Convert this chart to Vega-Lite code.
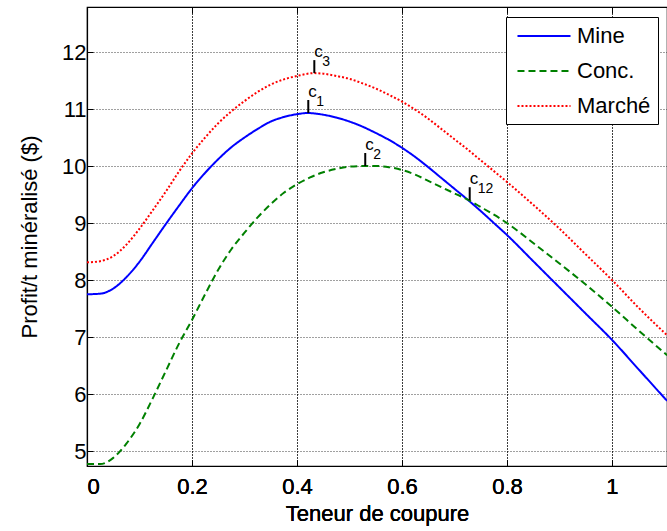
{
  "$schema": "https://vega.github.io/schema/vega-lite/v6.json",
  "width": 580,
  "height": 459,
  "autosize": {"type": "none"},
  "padding": {"left": 87, "top": 7, "right": 0, "bottom": 65},
  "background": "white",
  "config": {
    "font": "Liberation Sans",
    "view": {"stroke": "black", "strokeWidth": 1.2},
    "axis": {
      "domainColor": "black",
      "domainWidth": 1.2,
      "tickColor": "black",
      "tickSize": -6,
      "tickWidth": 1,
      "labelFont": "Liberation Sans",
      "labelFontSize": 22,
      "labelColor": "black",
      "titleFont": "Liberation Sans",
      "titleFontSize": 22,
      "titleFontWeight": "normal",
      "titleColor": "black",
      "gridColor": "black",
      "gridDash": [1, 2],
      "gridOpacity": 0.75,
      "gridWidth": 1
    },
    "legend": {
      "orient": "none",
      "legendX": 419,
      "legendY": 10,
      "strokeColor": "black",
      "fillColor": "white",
      "padding": 7,
      "symbolType": "M-2.5,0H2.5",
      "symbolSize": 450,
      "symbolStrokeWidth": 2,
      "symbolOffset": 19,
      "labelFont": "Liberation Sans",
      "labelFontSize": 22,
      "labelColor": "black",
      "labelOffset": 21,
      "rowPadding": 12
    }
  },
  "datasets": {
    "courbes": [
      {"serie": "Mine", "teneur": 0, "profit": 7.75},
      {"serie": "Mine", "teneur": 0.025, "profit": 7.76},
      {"serie": "Mine", "teneur": 0.05, "profit": 7.85},
      {"serie": "Mine", "teneur": 0.075, "profit": 8.05},
      {"serie": "Mine", "teneur": 0.1, "profit": 8.32},
      {"serie": "Mine", "teneur": 0.125, "profit": 8.65},
      {"serie": "Mine", "teneur": 0.15, "profit": 8.98},
      {"serie": "Mine", "teneur": 0.175, "profit": 9.3},
      {"serie": "Mine", "teneur": 0.2, "profit": 9.61},
      {"serie": "Mine", "teneur": 0.225, "profit": 9.88},
      {"serie": "Mine", "teneur": 0.25, "profit": 10.12},
      {"serie": "Mine", "teneur": 0.275, "profit": 10.33},
      {"serie": "Mine", "teneur": 0.3, "profit": 10.5},
      {"serie": "Mine", "teneur": 0.325, "profit": 10.65},
      {"serie": "Mine", "teneur": 0.35, "profit": 10.78},
      {"serie": "Mine", "teneur": 0.375, "profit": 10.86},
      {"serie": "Mine", "teneur": 0.4, "profit": 10.91},
      {"serie": "Mine", "teneur": 0.42, "profit": 10.93},
      {"serie": "Mine", "teneur": 0.45, "profit": 10.9},
      {"serie": "Mine", "teneur": 0.475, "profit": 10.85},
      {"serie": "Mine", "teneur": 0.5, "profit": 10.78},
      {"serie": "Mine", "teneur": 0.525, "profit": 10.69},
      {"serie": "Mine", "teneur": 0.55, "profit": 10.58},
      {"serie": "Mine", "teneur": 0.575, "profit": 10.46},
      {"serie": "Mine", "teneur": 0.6, "profit": 10.32},
      {"serie": "Mine", "teneur": 0.625, "profit": 10.16},
      {"serie": "Mine", "teneur": 0.65, "profit": 9.98},
      {"serie": "Mine", "teneur": 0.675, "profit": 9.79},
      {"serie": "Mine", "teneur": 0.7, "profit": 9.6},
      {"serie": "Mine", "teneur": 0.725, "profit": 9.41},
      {"serie": "Mine", "teneur": 0.75, "profit": 9.21},
      {"serie": "Mine", "teneur": 0.775, "profit": 9.0},
      {"serie": "Mine", "teneur": 0.8, "profit": 8.79},
      {"serie": "Mine", "teneur": 0.85, "profit": 8.33},
      {"serie": "Mine", "teneur": 0.9, "profit": 7.87},
      {"serie": "Mine", "teneur": 0.95, "profit": 7.41},
      {"serie": "Mine", "teneur": 1.0, "profit": 6.95},
      {"serie": "Mine", "teneur": 1.05, "profit": 6.44},
      {"serie": "Mine", "teneur": 1.105, "profit": 5.88},
      {"serie": "Conc.", "teneur": 0, "profit": 4.77},
      {"serie": "Conc.", "teneur": 0.025, "profit": 4.77},
      {"serie": "Conc.", "teneur": 0.05, "profit": 4.88},
      {"serie": "Conc.", "teneur": 0.075, "profit": 5.13},
      {"serie": "Conc.", "teneur": 0.1, "profit": 5.47},
      {"serie": "Conc.", "teneur": 0.125, "profit": 5.92},
      {"serie": "Conc.", "teneur": 0.15, "profit": 6.4},
      {"serie": "Conc.", "teneur": 0.175, "profit": 6.88},
      {"serie": "Conc.", "teneur": 0.2, "profit": 7.3},
      {"serie": "Conc.", "teneur": 0.225, "profit": 7.75},
      {"serie": "Conc.", "teneur": 0.25, "profit": 8.18},
      {"serie": "Conc.", "teneur": 0.275, "profit": 8.54},
      {"serie": "Conc.", "teneur": 0.3, "profit": 8.83},
      {"serie": "Conc.", "teneur": 0.325, "profit": 9.1},
      {"serie": "Conc.", "teneur": 0.35, "profit": 9.33},
      {"serie": "Conc.", "teneur": 0.375, "profit": 9.53},
      {"serie": "Conc.", "teneur": 0.4, "profit": 9.68},
      {"serie": "Conc.", "teneur": 0.425, "profit": 9.8},
      {"serie": "Conc.", "teneur": 0.45, "profit": 9.89},
      {"serie": "Conc.", "teneur": 0.475, "profit": 9.95},
      {"serie": "Conc.", "teneur": 0.5, "profit": 9.99},
      {"serie": "Conc.", "teneur": 0.53, "profit": 10.0},
      {"serie": "Conc.", "teneur": 0.55, "profit": 10.0},
      {"serie": "Conc.", "teneur": 0.575, "profit": 9.98},
      {"serie": "Conc.", "teneur": 0.6, "profit": 9.93},
      {"serie": "Conc.", "teneur": 0.625, "profit": 9.85},
      {"serie": "Conc.", "teneur": 0.65, "profit": 9.74},
      {"serie": "Conc.", "teneur": 0.675, "profit": 9.63},
      {"serie": "Conc.", "teneur": 0.7, "profit": 9.52},
      {"serie": "Conc.", "teneur": 0.725, "profit": 9.41},
      {"serie": "Conc.", "teneur": 0.75, "profit": 9.28},
      {"serie": "Conc.", "teneur": 0.8, "profit": 9.0},
      {"serie": "Conc.", "teneur": 0.85, "profit": 8.65},
      {"serie": "Conc.", "teneur": 0.9, "profit": 8.29},
      {"serie": "Conc.", "teneur": 0.95, "profit": 7.92},
      {"serie": "Conc.", "teneur": 1.0, "profit": 7.53},
      {"serie": "Conc.", "teneur": 1.05, "profit": 7.12},
      {"serie": "Conc.", "teneur": 1.105, "profit": 6.68},
      {"serie": "Marché", "teneur": 0, "profit": 8.31},
      {"serie": "Marché", "teneur": 0.025, "profit": 8.33},
      {"serie": "Marché", "teneur": 0.05, "profit": 8.42},
      {"serie": "Marché", "teneur": 0.075, "profit": 8.62},
      {"serie": "Marché", "teneur": 0.1, "profit": 8.9},
      {"serie": "Marché", "teneur": 0.125, "profit": 9.22},
      {"serie": "Marché", "teneur": 0.15, "profit": 9.55},
      {"serie": "Marché", "teneur": 0.175, "profit": 9.9},
      {"serie": "Marché", "teneur": 0.2, "profit": 10.22},
      {"serie": "Marché", "teneur": 0.225, "profit": 10.5},
      {"serie": "Marché", "teneur": 0.25, "profit": 10.75},
      {"serie": "Marché", "teneur": 0.275, "profit": 10.96},
      {"serie": "Marché", "teneur": 0.3, "profit": 11.14},
      {"serie": "Marché", "teneur": 0.325, "profit": 11.3},
      {"serie": "Marché", "teneur": 0.35, "profit": 11.43},
      {"serie": "Marché", "teneur": 0.375, "profit": 11.52},
      {"serie": "Marché", "teneur": 0.4, "profit": 11.58},
      {"serie": "Marché", "teneur": 0.433, "profit": 11.63},
      {"serie": "Marché", "teneur": 0.45, "profit": 11.62},
      {"serie": "Marché", "teneur": 0.475, "profit": 11.58},
      {"serie": "Marché", "teneur": 0.5, "profit": 11.53},
      {"serie": "Marché", "teneur": 0.525, "profit": 11.45},
      {"serie": "Marché", "teneur": 0.55, "profit": 11.36},
      {"serie": "Marché", "teneur": 0.575, "profit": 11.25},
      {"serie": "Marché", "teneur": 0.6, "profit": 11.13},
      {"serie": "Marché", "teneur": 0.625, "profit": 10.99},
      {"serie": "Marché", "teneur": 0.65, "profit": 10.83},
      {"serie": "Marché", "teneur": 0.675, "profit": 10.65},
      {"serie": "Marché", "teneur": 0.7, "profit": 10.47},
      {"serie": "Marché", "teneur": 0.725, "profit": 10.29},
      {"serie": "Marché", "teneur": 0.75, "profit": 10.1},
      {"serie": "Marché", "teneur": 0.8, "profit": 9.72},
      {"serie": "Marché", "teneur": 0.85, "profit": 9.32},
      {"serie": "Marché", "teneur": 0.9, "profit": 8.9},
      {"serie": "Marché", "teneur": 0.95, "profit": 8.45},
      {"serie": "Marché", "teneur": 1.0, "profit": 8.0},
      {"serie": "Marché", "teneur": 1.05, "profit": 7.52},
      {"serie": "Marché", "teneur": 1.105, "profit": 7.03}
    ],
    "reperes": [
      {"teneur": 0.433, "profit": 11.63, "indice": "3"},
      {"teneur": 0.4215, "profit": 10.93, "indice": "1"},
      {"teneur": 0.53, "profit": 10.0, "indice": "2"},
      {"teneur": 0.729, "profit": 9.4, "indice": "12"}
    ]
  },
  "encoding": {
    "x": {
      "field": "teneur",
      "type": "quantitative",
      "scale": {"domain": [0, 1.1048], "nice": false, "zero": false},
      "axis": {
        "orient": "bottom",
        "title": "Teneur de coupure",
        "values": [0, 0.2, 0.4, 0.6, 0.8, 1],
        "format": "~g",
        "labelPadding": 16,
        "titlePadding": 6,
        "grid": true
      }
    },
    "y": {
      "field": "profit",
      "type": "quantitative",
      "scale": {"domain": [4.737, 12.79], "nice": false, "zero": false},
      "axis": {
        "orient": "left",
        "title": "Profit/t minéralisé ($)",
        "values": [5, 6, 7, 8, 9, 10, 11, 12],
        "format": "~g",
        "labelPadding": 7,
        "titlePadding": 20,
        "grid": true
      }
    }
  },
  "layer": [
    {
      "data": {"name": "courbes"},
      "mark": {"type": "line", "interpolate": "monotone", "strokeWidth": 2, "clip": true},
      "encoding": {
        "color": {
          "field": "serie",
          "type": "nominal",
          "title": null,
          "scale": {"domain": ["Mine", "Conc.", "Marché"], "range": ["#0000ff", "#008000", "#ff0000"]}
        },
        "strokeDash": {
          "field": "serie",
          "type": "nominal",
          "title": null,
          "scale": {"domain": ["Mine", "Conc.", "Marché"], "range": [[1, 0], [7, 4], [2, 2]]}
        }
      }
    },
    {
      "data": {"name": "reperes"},
      "mark": {"type": "rule", "color": "black", "strokeWidth": 2, "yOffset": -13},
      "encoding": {
        "x": {
          "field": "teneur",
          "type": "quantitative",
          "axis": {"orient": "top", "labels": false, "domain": false, "grid": false, "title": null, "values": [0, 0.2, 0.4, 0.6, 0.8, 1]}
        },
        "y2": {"field": "profit"}
      }
    },
    {
      "data": {"name": "reperes"},
      "mark": {"type": "text", "text": "c", "align": "left", "baseline": "alphabetic", "fontSize": 17, "dy": -16, "color": "black"}
    },
    {
      "data": {"name": "reperes"},
      "mark": {"type": "text", "align": "left", "baseline": "alphabetic", "fontSize": 14, "dx": 8, "dy": -7, "color": "black"},
      "encoding": {
        "text": {"field": "indice"}
      }
    }
  ]
}
